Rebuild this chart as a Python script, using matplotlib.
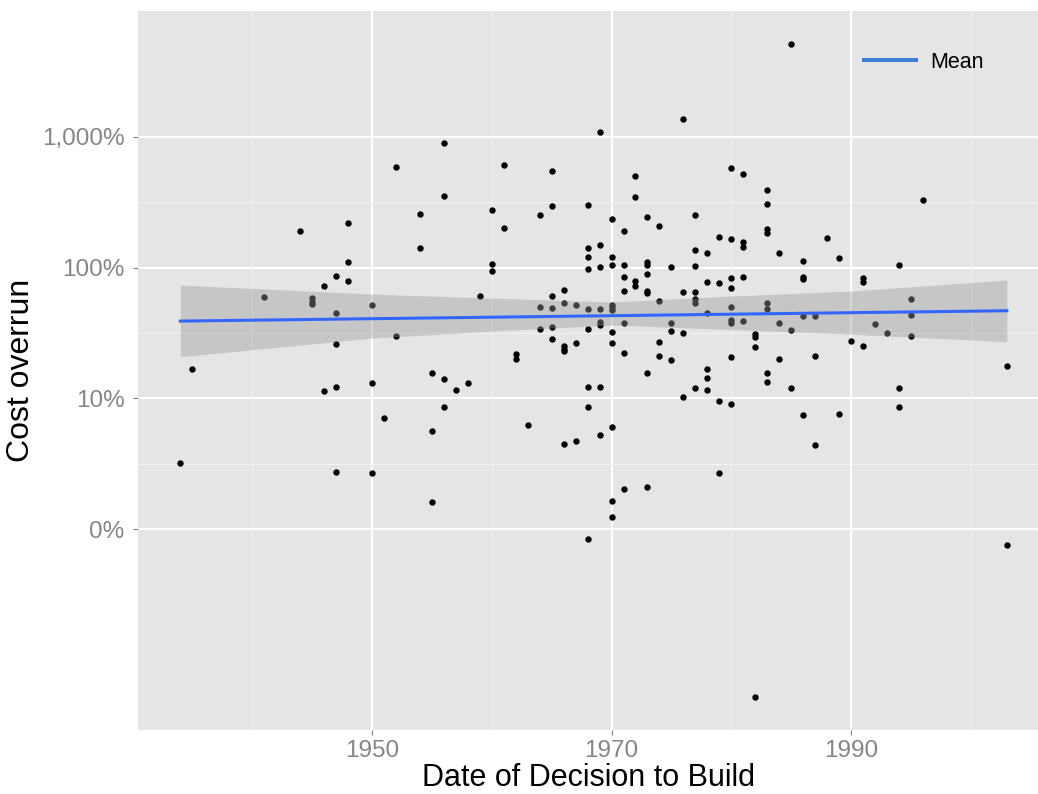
import matplotlib
matplotlib.use("Agg")
import matplotlib.pyplot as plt
from matplotlib.lines import Line2D

plt.rcParams['font.family'] = ['Liberation Sans', 'DejaVu Sans']

# projects: decision year and cost overrun (axis units, log scale)
years = [
    1934, 1935, 1941, 1944, 1945, 1945, 1945, 1946, 1946,
    1947, 1947, 1947, 1947, 1947, 1948, 1948, 1948,
    1950, 1950, 1950, 1951, 1952, 1952, 1954, 1954,
    1955, 1955, 1955, 1956, 1956, 1956, 1956, 1957, 1958, 1959,
    1960, 1960, 1960, 1961, 1961, 1962, 1962, 1963,
    1964, 1964, 1964, 1965, 1965, 1965, 1965, 1965, 1965,
    1966, 1966, 1966, 1966, 1966, 1966, 1967, 1967, 1967,
    1968, 1968, 1968, 1968, 1968, 1968, 1968, 1968, 1968,
    1969, 1969, 1969, 1969, 1969, 1969, 1969, 1969,
    1970, 1970, 1970, 1970, 1970, 1970, 1970, 1970, 1970, 1970, 1970,
    1971, 1971, 1971, 1971, 1971, 1971, 1971,
    1972, 1972, 1972, 1972,
    1973, 1973, 1973, 1973, 1973, 1973, 1973, 1973,
    1974, 1974, 1974, 1974, 1975, 1975, 1975, 1975,
    1976, 1976, 1976, 1976,
    1977, 1977, 1977, 1977, 1977, 1977, 1977,
    1978, 1978, 1978, 1978, 1978, 1978,
    1979, 1979, 1979, 1979,
    1980, 1980, 1980, 1980, 1980, 1980, 1980, 1980, 1980,
    1981, 1981, 1981, 1981, 1981,
    1982, 1982, 1982, 1982,
    1983, 1983, 1983, 1983, 1983, 1983, 1983, 1983,
    1984, 1984, 1984, 1985, 1985, 1985,
    1986, 1986, 1986, 1986, 1986, 1987, 1987, 1987,
    1988, 1989, 1989, 1990, 1991, 1991, 1991, 1992, 1993,
    1994, 1994, 1994, 1995, 1995, 1995, 1996, 2003, 2003,
]
overrun = [
    3.2, 16.7, 59.6, 190, 58.2, 54.8, 52.4, 72.3, 11.4,
    86.7, 44.7, 25.9, 12.3, 2.73, 219, 110, 79,
    51.5, 13.1, 2.67, 7.1, 591, 30, 256, 141,
    15.5, 5.59, 1.6, 903, 355, 14.0, 8.58, 11.6, 13.2, 60.6,
    276, 106, 95, 610, 200, 22, 20, 6.22,
    254, 49.7, 34.1, 551, 296, 60.6, 48.8, 35.1, 28.6,
    67.8, 53.3, 25.1, 24.0, 23.1, 4.45, 51.5, 26.5, 4.74,
    303, 141, 120, 97, 48, 33.7, 12.3, 8.58, 0.834,
    1097, 148, 102, 48.5, 38.4, 36.6, 12.3, 5.27,
    237, 121, 105, 51.7, 49.7, 47.4, 32.3, 26.5, 6.0, 1.65, 1.23,
    192, 105, 84.7, 66.2, 37.9, 22.3, 2.03,
    505, 345, 79.4, 72.3,
    243, 111, 105, 90, 66.6, 63.6, 15.5, 2.1,
    208, 55.5, 26.8, 20.9, 102, 37.5, 32.7, 19.5,
    1378, 64.7, 31.8, 10.2,
    254, 136, 103, 64.7, 57.2, 53.9, 12.1,
    129, 77.2, 45.2, 16.8, 14.2, 11.6,
    171, 76.6, 9.6, 2.67,
    575, 165, 82.8, 69.5, 50.2, 39.7, 37.5, 20.8, 9.04,
    517, 158, 144, 85.2, 39.0,
    31.0, 29.3, 24.8, 0.0518,
    392, 305, 196, 183, 53.9, 48.0, 15.5, 13.4,
    129, 37.9, 19.9, 5109, 33.3, 12.0,
    112, 85.2, 81.3, 42.9, 7.5, 42.9, 21.1, 4.37,
    168, 118, 7.55, 27.6, 84, 78, 25.0, 36.8, 31.4,
    105, 12.0, 8.58, 57.2, 43.2, 30.1, 329, 17.7, 0.75,
]

# fitted mean and its confidence band
mean_years = [1934, 2003]
mean_vals = [39.0, 46.8]
band_years = [1934, 1950, 1960, 1970, 1980, 1990, 2003]
band_lo = [20.8, 28.9, 32.7, 36.4, 33.6, 31.0, 27.1]
band_hi = [73.6, 62.8, 58.5, 54.6, 60.6, 66.2, 80.4]

ytick_vals = [1, 10, 100, 1000]
ytick_labels = ['0%', '10%', '100%', '1,000%']
yminor_vals = [10 ** 0.5, 10 ** 1.5, 10 ** 2.5]
xtick_vals = [1950, 1970, 1990]
xminor_vals = [1940, 1960, 1980, 2000]

fig = plt.figure(figsize=(10.38, 7.94), dpi=100)
ax = fig.add_axes([138 / 1038, 64 / 794, 900 / 1038, 719 / 794])
ax.set_facecolor('#E5E5E5')
for s in ax.spines.values():
    s.set_visible(False)

ax.plot(years, overrun, 'o', color='black', markersize=4.6, markeredgewidth=0, zorder=3)
ax.fill_between(band_years, band_lo, band_hi, color='#999999', alpha=0.4, linewidth=0, zorder=4)
ax.plot(mean_years, mean_vals, color='#3366FF', linewidth=2.2, zorder=5)

ax.set_yscale('log')
ax.set_xlim(1930.47, 2005.6)
ax.set_ylim(10 ** -1.538, 10 ** 3.964)

ax.set_yticks(ytick_vals)
ax.set_yticklabels(ytick_labels)
ax.set_yticks(yminor_vals, minor=True)
ax.set_yticklabels([], minor=True)
ax.set_xticks(xtick_vals)
ax.set_xticklabels([str(v) for v in xtick_vals])
ax.set_xticks(xminor_vals, minor=True)

ax.grid(which='major', color='white', linewidth=1.5, zorder=0)
ax.grid(which='minor', color='#F2F2F2', linewidth=0.8, zorder=0)
ax.set_axisbelow(True)

ax.tick_params(which='major', length=3.6, width=0.8, color='#7F7F7F',
               labelcolor='#858585', labelsize=17.5)
ax.tick_params(axis='y', which='major', pad=6)
ax.tick_params(axis='x', which='major', pad=3.5)
ax.tick_params(which='minor', length=0)

ax.set_xlabel('Date of Decision to Build', fontsize=22, labelpad=1)
ax.set_ylabel('Cost overrun', fontsize=23, labelpad=4)

handle = Line2D([0], [0], color='#3F7FD9', linewidth=2.9)
ax.legend([handle], ['Mean'], loc='center left', bbox_to_anchor=(0.807, 0.929),
          frameon=False, fontsize=15.5, handlelength=2.4, handletextpad=0.65,
          borderpad=0, borderaxespad=0)

fig.savefig('out.png', dpi=100)
